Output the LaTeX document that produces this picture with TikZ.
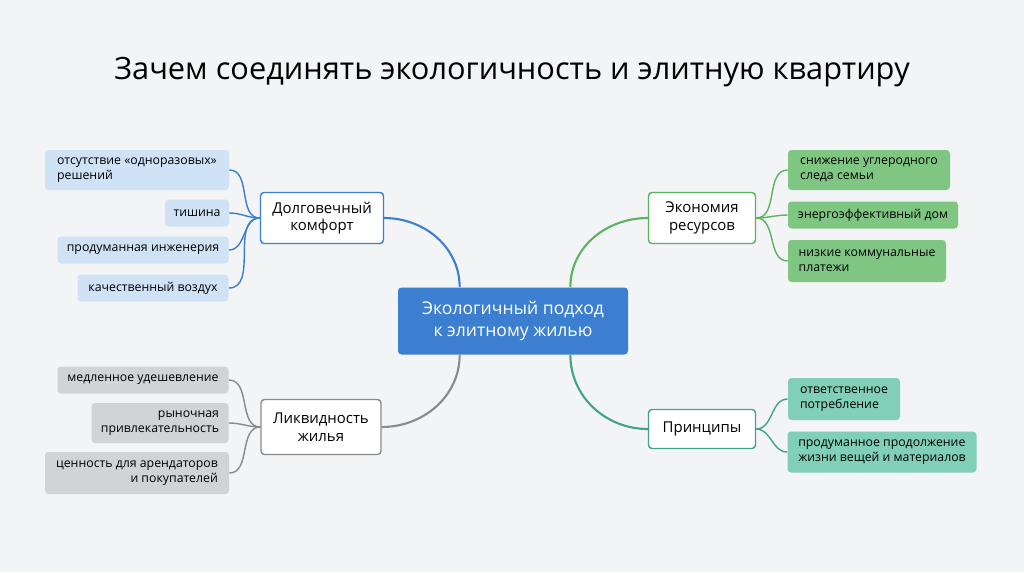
\documentclass[tikz,border=0pt]{standalone}
\usepackage{fontspec}
\setmainfont{Open Sans}
\usetikzlibrary{positioning}
\definecolor{bgc}{HTML}{F2F4F5}
\definecolor{cblue}{HTML}{3C7FD0}
\definecolor{lblue}{HTML}{CFE2F6}
\definecolor{cgray}{HTML}{8A8A8A}
\definecolor{lgray}{HTML}{D2D3D4}
\definecolor{cgreen}{HTML}{5DB25F}
\definecolor{lgreen}{HTML}{7FC682}
\definecolor{cteal}{HTML}{3FA487}
\definecolor{lteal}{HTML}{80CFB6}
\tikzset{%
  font=\fontsize{7}{8.5}\selectfont,
  branch/.style={draw,thick,rectangle,rounded corners=2pt,fill=white,align=center,
    font=\fontsize{8.5}{10}\selectfont,inner sep=2pt},
  leaf/.style={rectangle,rounded corners=2pt,inner sep=3pt,align=left},
  link/.style={draw,line width=1.2pt}
}
\begin{document}
\begin{tikzpicture}[x=0.02cm,y=-0.02cm]
	\fill[bgc] (0,0) rectangle (1024,572);
	\node (title) at (512,72) {\fontsize{17.5}{20}\selectfont Зачем соединять экологичность и элитную квартиру};
	\node[fill=cblue,text=white,rounded corners=2pt,minimum width=230*0.02cm,minimum height=67*0.02cm,
	      align=center,font=\fontsize{10}{12.5}\selectfont] (core) at (513,321) {Экологичный подход\\к элитному жилью};
	% branches
	\node[branch,draw=cblue,minimum width=123*0.02cm,minimum height=51*0.02cm] (comfort) at (322,218) {Долговечный\\комфорт};
	\node[branch,draw=cgray,minimum width=120*0.02cm,minimum height=55*0.02cm] (liquid) at (321,427) {Ликвидность\\жилья};
	\node[branch,draw=cgreen,minimum width=107*0.02cm,minimum height=51*0.02cm] (saving) at (702,218) {Экономия\\ресурсов};
	\node[branch,draw=cteal,minimum width=107*0.02cm,minimum height=39*0.02cm] (rules) at (702,429) {Принципы};
	% leaves
	\begin{scope}[every node/.style={leaf,fill=lblue}]
	\node[minimum width=184*0.02cm,minimum height=40*0.02cm] (c1) at (137,170) {отсутствие «одноразовых»\\решений};
	\node[minimum width=64*0.02cm,minimum height=27*0.02cm] (c2) at (197,213) {тишина};
	\node[minimum width=171*0.02cm,minimum height=27*0.02cm] (c3) at (143,250) {продуманная инженерия};
	\node[minimum width=151*0.02cm,minimum height=27*0.02cm] (c4) at (153,288) {качественный воздух};
	\end{scope}
	\begin{scope}[every node/.style={leaf,fill=lgray}]
	\node[minimum width=171*0.02cm,minimum height=27*0.02cm] (l1) at (143,380) {медленное удешевление};
	\node[minimum width=137*0.02cm,minimum height=40*0.02cm,align=right] (l2) at (160,423) {рыночная\\привлекательность};
	\node[minimum width=184*0.02cm,minimum height=42*0.02cm,align=right] (l3) at (137,473) {ценность для арендаторов\\и покупателей};
	\end{scope}
	\begin{scope}[every node/.style={leaf,fill=lgreen}]
	\node[minimum width=162*0.02cm,minimum height=40*0.02cm] (s1) at (869,170) {снижение углеродного\\следа семьи};
	\node[minimum width=170*0.02cm,minimum height=27*0.02cm] (s2) at (873,215) {энергоэффективный дом};
	\node[minimum width=158*0.02cm,minimum height=42*0.02cm] (s3) at (867,261) {низкие коммунальные\\платежи};
	\end{scope}
	\begin{scope}[every node/.style={leaf,fill=lteal}]
	\node[minimum width=112*0.02cm,minimum height=42*0.02cm] (p1) at (844,399) {ответственное\\потребление};
	\node[minimum width=189*0.02cm,minimum height=41*0.02cm] (p2) at (882,452) {продуманное продолжение\\жизни вещей и материалов};
	\end{scope}
	% connectors
	\coordinate (cnw) at ([xshift=62*0.02cm]core.north west);
	\coordinate (cne) at ([xshift=-58*0.02cm]core.north east);
	\coordinate (csw) at ([xshift=62*0.02cm]core.south west);
	\coordinate (cse) at ([xshift=-58*0.02cm]core.south east);
	\draw[link,cblue] (cnw) to[out=90,in=0] (comfort.east);
	\draw[link,cgray] (csw) to[out=-90,in=0] (liquid.east);
	\draw[link,cgreen] (cne) to[out=90,in=180] (saving.west);
	\draw[link,cteal] (cse) to[out=-90,in=180] (rules.west);
	\foreach \n in {c1,c2,c3,c4} \draw[link,line width=.8pt,cblue] (comfort.west) to[out=180,in=0] (\n.east);
	\foreach \n in {l1,l2,l3} \draw[link,line width=.8pt,cgray] (liquid.west) to[out=180,in=0] (\n.east);
	\foreach \n in {s1,s2,s3} \draw[link,line width=.8pt,cgreen] (saving.east) to[out=0,in=180] (\n.west);
	\foreach \n in {p1,p2} \draw[link,line width=.8pt,cteal] (rules.east) to[out=0,in=180] (\n.west);
\end{tikzpicture}
\end{document}
